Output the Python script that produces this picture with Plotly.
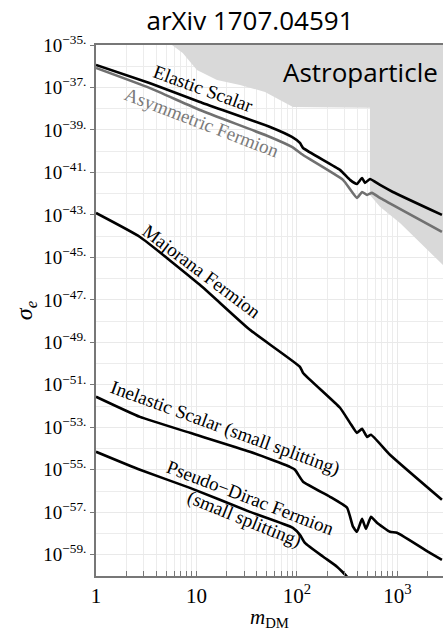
import numpy as np
import plotly.graph_objects as go

# Dark-matter mass (GeV) and log10 of the electron cross section for each model
elastic_m = [1, 3.4, 10.8, 54, 89, 107, 115, 268, 337, 395, 444, 475, 532, 670, 900, 2770]
elastic_log_sigma = [-35.94, -36.79, -37.68, -38.86, -39.33, -39.61, -39.85, -40.88, -41.35,
                     -41.54, -41.26, -41.49, -41.31, -41.59, -41.92, -43.0]

asym_m = [1, 3.4, 10.8, 54, 89, 115, 287, 395, 444, 498, 557, 670, 2770]
asym_log_sigma = [-36.08, -37.02, -38.06, -39.33, -39.80, -40.18, -41.35, -42.20, -41.92,
                  -42.06, -41.96, -42.20, -43.80]

majorana_m = [1, 2.74, 10.8, 34, 107, 115, 268, 337, 395, 444, 498, 545, 841, 2770]
majorana_log_sigma = [-42.91, -44.04, -46.29, -48.41, -50.15, -50.44, -52.08, -52.79, -53.26,
                      -53.07, -53.45, -53.35, -54.29, -56.41]

inelastic_m = [1, 2.74, 8.6, 34, 85, 95.5, 115, 213, 315, 361, 395, 444, 486, 545, 625, 841,
               989, 2104, 2770]
inelastic_log_sigma = [-51.56, -52.51, -53.26, -54.15, -54.86, -55.0, -55.56, -56.27, -56.79,
                       -57.68, -57.92, -57.31, -57.78, -57.21, -57.49, -57.92, -57.96, -58.91,
                       -59.24]

pseudo_m = [1, 2.74, 8.6, 34, 91, 107, 120, 182, 250, 315, 330]
pseudo_log_sigma = [-54.15, -55.0, -55.85, -56.98, -57.73, -58.06, -58.44, -59.09, -59.56,
                    -60.04, -60.4]

# Excluded region from astroparticle bounds
astro_m = [5.7, 7.3, 10.1, 16.0, 27.1, 48.1, 91.2, 532, 532, 670, 1059, 1675, 2970, 2970]
astro_log_sigma = [-35.0, -35.38, -36.18, -36.65, -36.88, -37.21, -37.92, -37.96, -42.06,
                   -42.62, -43.38, -44.32, -45.45, -35.0]

y_major_exp = list(range(-35, -60, -2))
y_minor_exp = list(range(-36, -61, -2))
x_major = [1, 10, 100, 1000]
x_major_text = ["1", "10", "10<sup>2</sup>", "10<sup>3</sup>"]
x_minor = [k * 10 ** d for d in range(0, 4) for k in range(2, 10) if k * 10 ** d <= 3000]

SERIF = "Liberation Serif, Times New Roman, serif"
SANS = "Open Sans, Noto Sans, sans-serif"

fig = go.Figure()

fig.add_trace(go.Scatter(
    x=astro_m, y=10.0 ** np.array(astro_log_sigma), mode="lines", fill="toself",
    fillcolor="#d9d9d9", line=dict(width=0, color="#d9d9d9"), hoverinfo="skip",
    showlegend=False))

curves = [
    (asym_m, asym_log_sigma, "#707070"),
    (elastic_m, elastic_log_sigma, "black"),
    (majorana_m, majorana_log_sigma, "black"),
    (inelastic_m, inelastic_log_sigma, "black"),
    (pseudo_m, pseudo_log_sigma, "black"),
]
for m, ls, col in curves:
    fig.add_trace(go.Scatter(
        x=m, y=10.0 ** np.array(ls), mode="lines",
        line=dict(color=col, width=2.6, shape="spline", smoothing=0.4),
        showlegend=False))

L, R, T, B = 96, 2, 45, 55
W, H = 445, 631
pw, ph = W - L - R, H - T - B


def px(xpix, ypix):
    return (xpix - L) / pw, (H - B - ypix) / ph


annotations = []
labels = [
    ("Elastic Scalar", 203, 89, 20, "black", 19),
    ("Asymmetric Fermion", 202, 123, 21, "#7a7a7a", 19),
    ("Majorana Fermion", 202, 271, 37, "black", 19),
    ("Inelastic Scalar (small splitting)", 225, 428, 20, "black", 19),
    ("Pseudo\u2212Dirac Fermion", 250, 497, 21, "black", 19),
    ("(small splitting)", 244, 519, 22, "black", 19),
]
for text, xp, yp, ang, col, size in labels:
    ax_, ay_ = px(xp, yp)
    annotations.append(dict(
        text=text, x=ax_, y=ay_, xref="paper", yref="paper", showarrow=False,
        textangle=ang, font=dict(family=SERIF, size=size, color=col),
        xanchor="center", yanchor="middle"))

ax_, ay_ = px(360, 72)
annotations.append(dict(text="Astroparticle", x=ax_, y=ay_, xref="paper", yref="paper",
                        showarrow=False, font=dict(family=SANS, size=26, color="black"),
                        xanchor="center", yanchor="middle"))

fig.update_layout(
    width=W, height=H,
    margin=dict(l=L, r=R, t=T, b=B),
    paper_bgcolor="white", plot_bgcolor="white",
    title=dict(text="arXiv 1707.04591", x=250 / W, xanchor="center", y=1 - 21 / H,
               yanchor="middle", font=dict(family=SANS, size=26, color="black")),
    annotations=annotations,
    xaxis=dict(
        type="log", range=[0, 3.453],
        tickmode="array", tickvals=x_major, ticktext=x_major_text,
        ticks="inside", ticklen=5, tickcolor="#777",
        showline=True, linecolor="#777", linewidth=1.5, mirror=True,
        showgrid=True, gridcolor="#e9e9e9", gridwidth=1,
        tickfont=dict(family=SERIF, size=21, color="black"),
        minor=dict(tickmode="array", tickvals=x_minor, ticks="inside", ticklen=5,
                   tickcolor="#777", showgrid=True, gridcolor="#ececec"),
        title=dict(text="<i>m</i><sub>DM</sub>",
                   font=dict(family=SERIF, size=21, color="black"), standoff=6),
        zeroline=False,
    ),
    yaxis=dict(
        type="log", range=[-60, -35],
        tickmode="array", tickvals=[10.0 ** e for e in y_major_exp],
        ticktext=["10<sup>\u2212%d.</sup>" % -e for e in y_major_exp],
        ticks="outside", ticklen=4, tickcolor="#777",
        showline=True, linecolor="#777", linewidth=1.5,
        showgrid=True, gridcolor="#e9e9e9", gridwidth=1,
        tickfont=dict(family=SERIF, size=19, color="black"),
        minor=dict(tickmode="array", tickvals=[10.0 ** e for e in y_minor_exp],
                   ticks="", showgrid=True, gridcolor="#ececec"),
        title=dict(text="<i>\u03c3<sub>e</sub></i>",
                   font=dict(family=SERIF, size=24, color="black"), standoff=4),
        zeroline=False,
    ),
)

fig.write_html("out.html")
